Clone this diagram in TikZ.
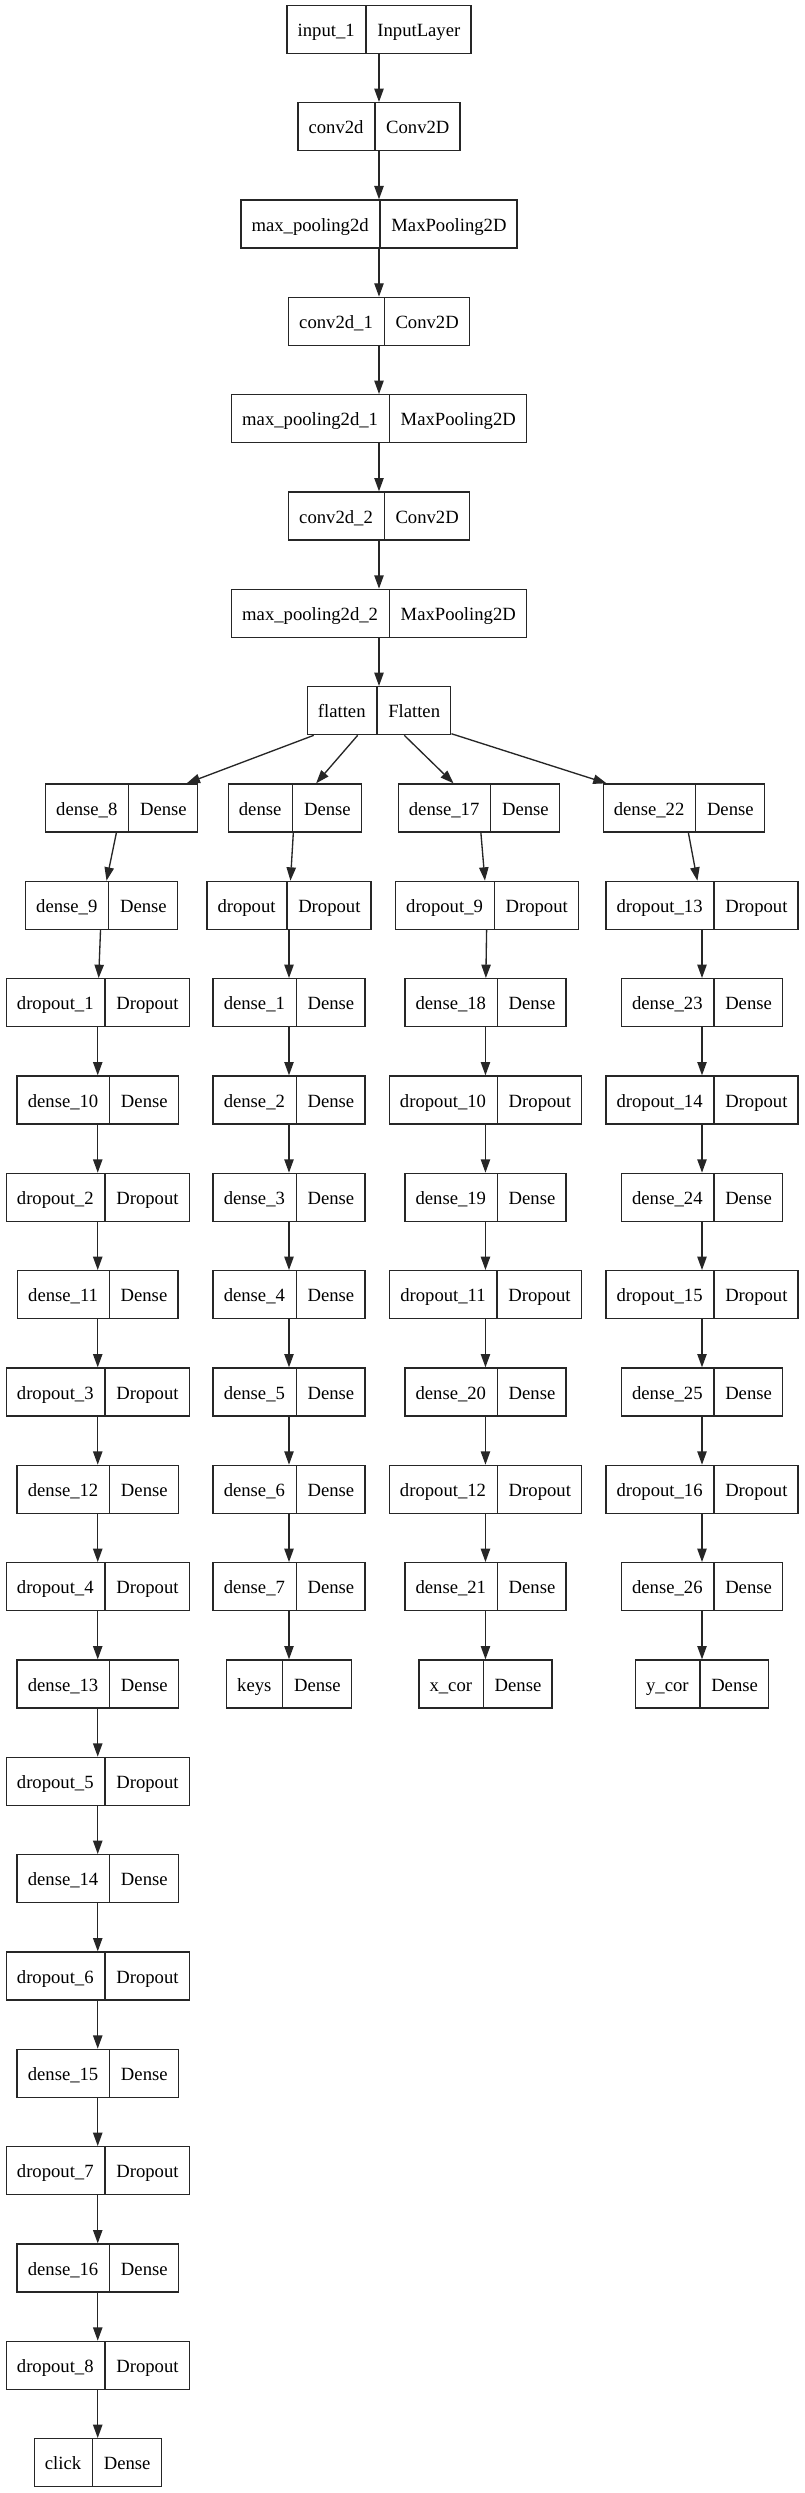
\documentclass[tikz,border=0pt]{standalone}
\usepackage{fontspec}
\setmainfont{Liberation Serif}
\usetikzlibrary{shapes.multipart,arrows.meta}
\tikzset{
  layer/.style={rectangle split, rectangle split horizontal, rectangle split parts=2,
    draw=black!85, line width=1pt, inner xsep=8pt, inner ysep=0pt,
    font=\fontsize{14pt}{16pt}\selectfont, fill=white},
  arr/.style={draw=black!85, line width=1pt, -{Triangle[length=10pt,width=7pt]}}
}
\newcommand\lstrut{\rule[-12.6pt]{0pt}{36pt}}
\newcommand\lyr[5]{\node[layer] (#1) at ({#2},{-22-73*#3}) {\lstrut#4\nodepart{two}\lstrut#5};}
\begin{document}
\begin{tikzpicture}[x=1pt,y=1pt]
\fill[white] (0,0) rectangle (603.75,-1869.75);
\useasboundingbox (0,0) rectangle (603.75,-1869.75);
% trunk
\lyr{in1}{284.25}{0}{input\_1}{InputLayer}
\lyr{c0}{284.25}{1}{conv2d}{Conv2D}
\lyr{mp0}{284.25}{2}{max\_pooling2d}{MaxPooling2D}
\lyr{c1}{284.25}{3}{conv2d\_1}{Conv2D}
\lyr{mp1}{284.25}{4}{max\_pooling2d\_1}{MaxPooling2D}
\lyr{c2}{284.25}{5}{conv2d\_2}{Conv2D}
\lyr{mp2}{284.25}{6}{max\_pooling2d\_2}{MaxPooling2D}
\lyr{fl}{284.25}{7}{flatten}{Flatten}
% column 1
\lyr{d8}{91.1}{8}{dense\_8}{Dense}
\lyr{d9}{76.1}{9}{dense\_9}{Dense}
\lyr{o1}{73.3}{10}{dropout\_1}{Dropout}
\lyr{d10}{73.3}{11}{dense\_10}{Dense}
\lyr{o2}{73.3}{12}{dropout\_2}{Dropout}
\lyr{d11}{73.3}{13}{dense\_11}{Dense}
\lyr{o3}{73.3}{14}{dropout\_3}{Dropout}
\lyr{d12}{73.3}{15}{dense\_12}{Dense}
\lyr{o4}{73.3}{16}{dropout\_4}{Dropout}
\lyr{d13}{73.3}{17}{dense\_13}{Dense}
\lyr{o5}{73.3}{18}{dropout\_5}{Dropout}
\lyr{d14}{73.3}{19}{dense\_14}{Dense}
\lyr{o6}{73.3}{20}{dropout\_6}{Dropout}
\lyr{d15}{73.3}{21}{dense\_15}{Dense}
\lyr{o7}{73.3}{22}{dropout\_7}{Dropout}
\lyr{d16}{73.3}{23}{dense\_16}{Dense}
\lyr{o8}{73.3}{24}{dropout\_8}{Dropout}
\lyr{click}{73.3}{25}{click}{Dense}
% column 2
\lyr{d0}{221.1}{8}{dense}{Dense}
\lyr{o0}{216.75}{9}{dropout}{Dropout}
\lyr{d1}{216.75}{10}{dense\_1}{Dense}
\lyr{d2}{216.75}{11}{dense\_2}{Dense}
\lyr{d3}{216.75}{12}{dense\_3}{Dense}
\lyr{d4}{216.75}{13}{dense\_4}{Dense}
\lyr{d5}{216.75}{14}{dense\_5}{Dense}
\lyr{d6}{216.75}{15}{dense\_6}{Dense}
\lyr{d7}{216.75}{16}{dense\_7}{Dense}
\lyr{keys}{216.75}{17}{keys}{Dense}
% column 3
\lyr{d17}{359.1}{8}{dense\_17}{Dense}
\lyr{o9}{365.25}{9}{dropout\_9}{Dropout}
\lyr{d18}{364.1}{10}{dense\_18}{Dense}
\lyr{o10}{364.1}{11}{dropout\_10}{Dropout}
\lyr{d19}{364.1}{12}{dense\_19}{Dense}
\lyr{o11}{364.1}{13}{dropout\_11}{Dropout}
\lyr{d20}{364.1}{14}{dense\_20}{Dense}
\lyr{o12}{364.1}{15}{dropout\_12}{Dropout}
\lyr{d21}{364.1}{16}{dense\_21}{Dense}
\lyr{xcor}{364.1}{17}{x\_cor}{Dense}
% column 4
\lyr{d22}{512.8}{8}{dense\_22}{Dense}
\lyr{o13}{526.5}{9}{dropout\_13}{Dropout}
\lyr{d23}{526.5}{10}{dense\_23}{Dense}
\lyr{o14}{526.5}{11}{dropout\_14}{Dropout}
\lyr{d24}{526.5}{12}{dense\_24}{Dense}
\lyr{o15}{526.5}{13}{dropout\_15}{Dropout}
\lyr{d25}{526.5}{14}{dense\_25}{Dense}
\lyr{o16}{526.5}{15}{dropout\_16}{Dropout}
\lyr{d26}{526.5}{16}{dense\_26}{Dense}
\lyr{ycor}{526.5}{17}{y\_cor}{Dense}
% edges
\foreach \a/\b in {in1/c0,c0/mp0,mp0/c1,c1/mp1,mp1/c2,c2/mp2,mp2/fl,
  fl/d8,fl/d0,fl/d17,fl/d22,
  d8/d9,d9/o1,o1/d10,d10/o2,o2/d11,d11/o3,o3/d12,d12/o4,o4/d13,d13/o5,o5/d14,d14/o6,o6/d15,d15/o7,o7/d16,d16/o8,o8/click,
  d0/o0,o0/d1,d1/d2,d2/d3,d3/d4,d4/d5,d5/d6,d6/d7,d7/keys,
  d17/o9,o9/d18,d18/o10,o10/d19,d19/o11,o11/d20,d20/o12,o12/d21,d21/xcor,
  d22/o13,o13/d23,d23/o14,o14/d24,d24/o15,o15/d25,d25/o16,o16/d26,d26/ycor}
  \draw[arr] (\a) -- (\b);
\end{tikzpicture}
\end{document}
